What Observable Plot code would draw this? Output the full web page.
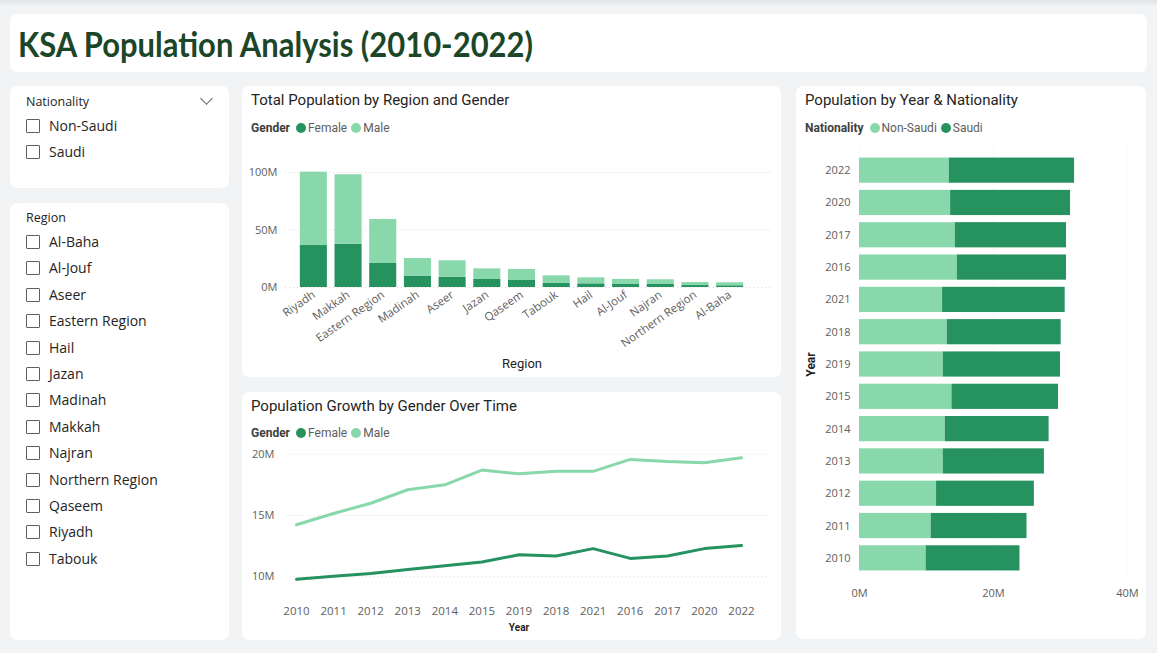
<!DOCTYPE html>
<html>
<head>
<meta charset="utf-8">
<script src="https://cdn.jsdelivr.net/npm/d3@7"></script>
<script src="https://cdn.jsdelivr.net/npm/@observablehq/plot@0.6"></script>
<style>
  html, body { margin: 0; padding: 0; }
  body { width: 1157px; height: 653px; overflow: hidden; background: #f2f3f5; position: relative; font-family: "Open Sans", "Noto Sans", sans-serif; }
  .topbar { position: absolute; left: 0; top: 0; width: 1157px; height: 6px; background: linear-gradient(#e2e3e5, #f2f3f5); }
  .panel { position: absolute; background: #ffffff; border-radius: 7px; }
  .title { position: absolute; left: 18px; top: 24px; font-family: Lato, "Open Sans", sans-serif; font-weight: 700; font-size: 34px; color: #1b4628; white-space: nowrap; transform-origin: left center; line-height: 40px; }
  .ctitle { position: absolute; font-family: Roboto, "Noto Sans", sans-serif; font-size: 15px; color: #252423; white-space: nowrap; line-height: 18px; font-weight: 400; }
  .legend { position: absolute; font-family: Roboto, "Noto Sans", sans-serif; font-size: 12px; color: #605e5c; white-space: nowrap; line-height: 14px; display: flex; align-items: center; }
  .legend b { color: #404040; font-weight: 700; margin-right: 6px; }
  .legend .dot { display: inline-block; width: 10px; height: 10px; border-radius: 50%; margin-right: 2px; }
  .legend .item { margin-right: 4px; display: inline-flex; align-items: center; }
  .slhead { position: absolute; left: 26px; font-size: 12.5px; color: #252423; line-height: 16px; }
  .slitem { position: absolute; left: 26px; font-size: 14px; color: #252423; line-height: 18px; display: flex; align-items: center; white-space: nowrap; }
  .slitem .box { width: 12px; height: 12px; border: 1px solid #605e5c; border-radius: 1px; margin-right: 9px; box-sizing: content-box; }
  .chev { position: absolute; left: 202px; top: 94px; width: 8px; height: 8px; border-right: 1px solid #605e5c; border-bottom: 1px solid #605e5c; transform: rotate(45deg); }
  .plotbox { position: absolute; }
</style>
</head>
<body>
<div class="topbar"></div>
<div class="panel" style="left:10px;top:14px;width:1137px;height:58px;"></div>
<div class="title" id="title">KSA Population Analysis (2010-2022)</div>

<div class="panel" style="left:10px;top:86px;width:219px;height:102px;"></div>
<div class="panel" style="left:10px;top:203px;width:219px;height:437px;"></div>
<div class="panel" style="left:242px;top:86px;width:539px;height:291px;"></div>
<div class="panel" style="left:242px;top:392px;width:539px;height:248px;"></div>
<div class="panel" style="left:796px;top:86px;width:350px;height:553px;"></div>

<div id="slicers"></div>
<div class="chev"></div>

<div class="ctitle" style="left:251px;top:91px;">Total Population by Region and Gender</div>
<div class="ctitle" style="left:251px;top:397px;">Population Growth by Gender Over Time</div>
<div class="ctitle" style="left:805px;top:91px;">Population by Year &amp; Nationality</div>

<div class="legend" id="leg1" style="left:251px;top:121px;"></div>
<div class="legend" id="leg2" style="left:251px;top:426px;"></div>
<div class="legend" id="leg3" style="left:805px;top:121px;"></div>

<div class="plotbox" id="bar" style="left:242px;top:140px;"></div>
<div class="plotbox" id="line" style="left:242px;top:440px;"></div>
<div class="plotbox" id="hbar" style="left:796px;top:140px;"></div>

<script>
// ---------- data (values in millions) ----------
const nationalities = ["Non-Saudi", "Saudi"];
const regionList = ["Al-Baha", "Al-Jouf", "Aseer", "Eastern Region", "Hail", "Jazan", "Madinah", "Makkah", "Najran", "Northern Region", "Qaseem", "Riyadh", "Tabouk"];

const regions = ["Riyadh", "Makkah", "Eastern Region", "Madinah", "Aseer", "Jazan", "Qaseem", "Tabouk", "Hail", "Al-Jouf", "Najran", "Northern Region", "Al-Baha"];
const regionFemale = [36.5, 37.7, 20.9, 9.9, 9.0, 7.0, 6.1, 3.5, 3.2, 2.6, 2.6, 1.7, 1.5];
const regionMale = [63.8, 60.3, 38.2, 15.3, 14.2, 9.2, 9.6, 6.6, 5.2, 4.4, 4.1, 2.6, 2.6];
const regionTicks = [0, 50, 100];

const lineYears = ["2010", "2011", "2012", "2013", "2014", "2015", "2019", "2018", "2021", "2016", "2017", "2020", "2022"];
const lineMale = [14.24, 15.16, 16.0, 17.1, 17.5, 18.7, 18.4, 18.6, 18.6, 19.57, 19.4, 19.3, 19.7];
const lineFemale = [9.8, 10.05, 10.27, 10.6, 10.9, 11.2, 11.8, 11.7, 12.3, 11.5, 11.7, 12.3, 12.55];
const lineTicks = [10, 15, 20];

const natYears = ["2022", "2020", "2017", "2016", "2021", "2018", "2019", "2015", "2014", "2013", "2012", "2011", "2010"];
const natNonSaudi = [13.4, 13.6, 14.3, 14.6, 12.4, 13.1, 12.5, 13.8, 12.8, 12.5, 11.5, 10.7, 9.95];
const natSaudi = [18.7, 17.9, 16.6, 16.3, 18.3, 17.0, 17.5, 15.9, 15.5, 15.1, 14.6, 14.3, 14.0];
const natTicks = [0, 20, 40];

// ---------- styles ----------
const DARK = "#26925f";
const LIGHT = "#88d8ab";
const fmtM = d => d + "M";
const axisStyle = {fontFamily: "'Open Sans', 'Noto Sans', sans-serif", fontSize: "11px", color: "#605e5c", background: "transparent", overflow: "visible"};

// ---------- title fit ----------
const t = document.getElementById("title");
t.style.transform = `scaleX(${515 / t.getBoundingClientRect().width})`;

// ---------- slicers ----------
const sl = document.getElementById("slicers");
function addHead(text, top) {
  const d = document.createElement("div"); d.className = "slhead"; d.style.top = top + "px"; d.textContent = text; sl.appendChild(d);
}
function addItem(text, top) {
  const d = document.createElement("div"); d.className = "slitem"; d.style.top = top + "px";
  const b = document.createElement("span"); b.className = "box"; d.appendChild(b);
  const s = document.createElement("span"); s.textContent = text; d.appendChild(s);
  sl.appendChild(d);
}
addHead("Nationality", 94);
nationalities.forEach((n, i) => addItem(n, 117 + i * 26));
addHead("Region", 210);
regionList.forEach((r, i) => addItem(r, 233 + i * 26.4));

// ---------- legends ----------
function legend(id, title, items) {
  const el = document.getElementById(id);
  el.innerHTML = `<b>${title}</b>` + items.map(([n, c]) => `<span class="item"><span class="dot" style="background:${c}"></span>${n}</span>`).join("");
}
legend("leg1", "Gender", [["Female", DARK], ["Male", LIGHT]]);
legend("leg2", "Gender", [["Female", DARK], ["Male", LIGHT]]);
legend("leg3", "Nationality", [["Non-Saudi", LIGHT], ["Saudi", DARK]]);

// ---------- chart 1: stacked columns ----------
const regionData = [
  ...regions.map((r, i) => ({region: r, gender: "Female", value: regionFemale[i]})),
  ...regions.map((r, i) => ({region: r, gender: "Male", value: regionMale[i]}))
];
const bar = Plot.plot({
  width: 539, height: 238,
  marginLeft: 54, marginRight: 34, marginTop: 20.5, marginBottom: 91,
  style: axisStyle,
  x: {domain: regions, paddingInner: 0.22, paddingOuter: 0.11, round: false, label: null},
  y: {domain: [0, 110], label: null},
  color: {domain: ["Female", "Male"], range: [DARK, LIGHT]},
  marks: [
    Plot.ruleY(regionTicks, {stroke: "#d8d8d8", strokeDasharray: "1,3", insetLeft: -11, insetRight: -23}),
    Plot.barY(regionData, {x: "region", y: "value", fill: "gender"}),
    Plot.axisY({ticks: regionTicks, tickFormat: fmtM, tickSize: 0, tickPadding: 19, label: null}),
    Plot.axisX({tickRotate: -35, tickSize: 0, tickPadding: 6, fontSize: 11.5, label: null}),
    Plot.text(["Region"], {frameAnchor: "bottom", dy: 80, fontSize: 13, fill: "#252423", fontFamily: "Roboto, sans-serif"})
  ]
});
document.getElementById("bar").appendChild(bar);

// ---------- chart 2: lines ----------
const lineData = [
  ...lineYears.map((y, i) => ({year: y, gender: "Female", value: lineFemale[i]})),
  ...lineYears.map((y, i) => ({year: y, gender: "Male", value: lineMale[i]}))
];
const line = Plot.plot({
  width: 539, height: 200,
  marginLeft: 54, marginRight: 40, marginTop: 1.4, marginBottom: 45.3,
  style: axisStyle,
  x: {type: "point", domain: lineYears, padding: 0, round: false, label: null},
  y: {domain: [8.5, 21], label: null},
  color: {domain: ["Female", "Male"], range: [DARK, LIGHT]},
  marks: [
    Plot.ruleY(lineTicks, {stroke: "#dcdcdc", strokeDasharray: "1,3", insetLeft: -6, insetRight: -28}),
    Plot.line(lineData, {x: "year", y: "value", stroke: "gender", z: "gender", strokeWidth: 3}),
    Plot.axisY({ticks: lineTicks, tickFormat: fmtM, tickSize: 0, tickPadding: 22, label: null}),
    Plot.axisX({tickSize: 0, tickPadding: 12, fontSize: 11.5, label: null}),
    Plot.text(["Year"], {frameAnchor: "bottom", dy: 36, fontSize: 10, fontWeight: 700, fill: "#252423", fontFamily: "Roboto, sans-serif"})
  ]
});
document.getElementById("line").appendChild(line);

// ---------- chart 3: stacked horizontal bars ----------
const natData = [
  ...natYears.map((y, i) => ({year: y, nat: "Non-Saudi", value: natNonSaudi[i]})),
  ...natYears.map((y, i) => ({year: y, nat: "Saudi", value: natSaudi[i]}))
];
const hbar = Plot.plot({
  width: 350, height: 500,
  marginLeft: 63, marginRight: 19, marginTop: 14, marginBottom: 66,
  style: axisStyle,
  x: {domain: [0, 40], label: null},
  y: {domain: natYears, paddingInner: 0.22, paddingOuter: 0.11, round: false, label: null},
  color: {domain: ["Non-Saudi", "Saudi"], range: [LIGHT, DARK]},
  marks: [
    Plot.ruleX(natTicks, {stroke: "#ececec", strokeDasharray: "1,3", insetTop: -10}),
    Plot.barX(natData, {y: "year", x: "value", fill: "nat"}),
    Plot.axisX({ticks: natTicks, tickFormat: fmtM, tickSize: 0, tickPadding: 15, label: null}),
    Plot.axisY({tickSize: 0, tickPadding: 9, label: null}),
    Plot.text(["Year"], {frameAnchor: "left", textAnchor: "middle", dx: -48, rotate: -90, fontSize: 12, fontWeight: 700, fill: "#252423", fontFamily: "Roboto, sans-serif"})
  ]
});
document.getElementById("hbar").appendChild(hbar);
</script>
</body>
</html>
